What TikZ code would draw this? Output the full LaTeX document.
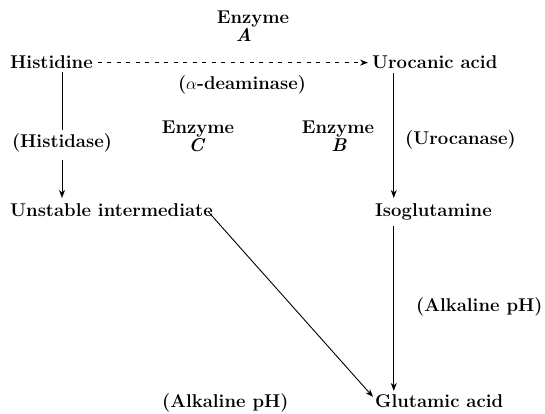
\documentclass[tikz,border=0pt]{standalone}
\usetikzlibrary{arrows.meta}

\begin{document}
\begin{tikzpicture}[x=1pt, y=-1pt,
        txt/.style={font=\fontsize{18.5}{21}\selectfont\bfseries, inner sep=0pt, anchor=base west},
        txtc/.style={txt, anchor=base},
        conn/.style={line width=0.9pt},
        arr/.style={conn, -{Stealth[length=8pt, width=6pt]}}]

        \useasboundingbox (0,0) rectangle (545,413);

        % -- compounds -----------------------------------------------------------
        \node[txt] (hist) at (10,68)  {Histidine};
        \node[txt] (uro)  at (372,68) {Urocanic acid};
        \node[txt] (unst) at (10,216) {Unstable intermediate};
        \node[txt] (iso)  at (375,216) {Isoglutamine};
        \node[txt] (glu)  at (375,407) {Glutamic acid};

        % -- enzymes -------------------------------------------------------------
        \node[txtc] (enzA) at (253,23)  {Enzyme};
        \node[txtc] (letA) at (244,41)  {\textit{A}};
        \node[txtc] (enzC) at (198,133) {Enzyme};
        \node[txtc] (letC) at (197,151) {\textit{C}};
        \node[txtc] (enzB) at (338,133) {Enzyme};
        \node[txtc] (letB) at (339,151) {\textit{B}};

        % -- reaction labels -----------------------------------------------------
        \node[txtc] (deam) at (242,89)  {($\alpha$-deaminase)};
        \node[txtc] (hsd)  at (62,147)  {(Histidase)};
        \node[txt]  (ucn)  at (405,144) {(Urocanase)};
        \node[txt]  (alkR) at (416,311) {(Alkaline pH)};
        \node[txt]  (alkB) at (162,407) {(Alkaline pH)};

        % -- histidine -> urocanic acid (dashed) ---------------------------------
        \draw[arr, dash pattern=on 4pt off 5.5pt, shorten <=5pt, shorten >=4pt]
            ([yshift=-1pt]hist.east) -- ([yshift=-1pt]hist.east -| uro.west);

        % -- histidine -> unstable intermediate ----------------------------------
        \draw[conn, shorten <=4pt, shorten >=3pt] (hist.south -| hsd) -- (hsd.north);
        \draw[arr, shorten <=8pt, shorten >=5pt] (hsd.south) -- (hsd.south |- unst.north);

        % -- urocanic acid -> isoglutamine -> glutamic acid ----------------------
        \draw[arr, shorten <=5pt, shorten >=5pt] ([xshift=-41pt]uro.south) -- ([xshift=-41pt]uro.south |- iso.north);
        \draw[arr, shorten <=6pt, shorten >=3pt] ([xshift=-41pt]uro.south |- iso.south) -- ([xshift=-41pt]uro.south |- glu.north);

        % -- unstable intermediate -> glutamic acid ------------------------------
        \draw[arr] ([xshift=-5pt, yshift=5pt]unst.south east) -- ([xshift=-2pt, yshift=-3pt]glu.north west);
    \end{tikzpicture}
\end{document}
